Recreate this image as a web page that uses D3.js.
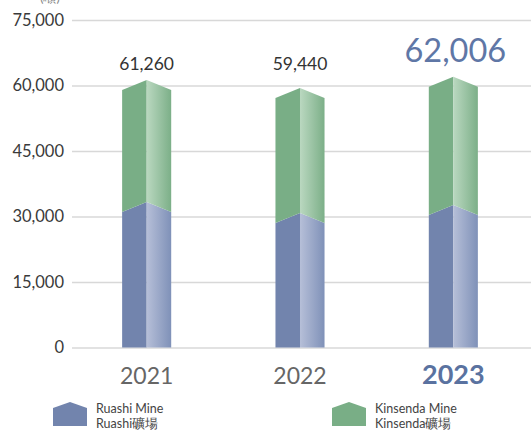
<!DOCTYPE html>
<html>
<head>
<meta charset="utf-8">
<script src="https://cdn.jsdelivr.net/npm/d3@7"></script>
<style>
  html, body { margin: 0; padding: 0; background: #fff; }
  svg { display: block; font-family: Lato, "Noto Sans", sans-serif; }
</style>
</head>
<body>
<svg id="chart" width="531" height="430"></svg>
<script>
// Production volume per year by mine (tonnes)
const years = ["2021", "2022", "2023"];
const ruashi = [33340, 30820, 32650];
const kinsenda = [27920, 28620, 29356];
const totals = [61260, 59440, 62006];
const yTicks = [0, 15000, 30000, 45000, 60000, 75000];
const seriesNames = [
  ["Ruashi Mine", "Ruashi礦場"],
  ["Kinsenda Mine", "Kinsenda礦場"]
];

const svg = d3.select("#chart");
const plot = { left: 72, right: 531, top: 20, bottom: 347.5 };

const x = d3.scaleBand().domain(years).range([70, 530]).paddingInner(0.68).paddingOuter(0.34);
const y = d3.scaleLinear().domain([0, 75000]).range([plot.bottom, plot.top]);

const defs = svg.append("defs");
function grad(id, c0, c1) {
  const g = defs.append("linearGradient").attr("id", id)
    .attr("x1", "0%").attr("x2", "100%").attr("y1", "0%").attr("y2", "0%");
  g.append("stop").attr("offset", "0%").attr("stop-color", c0);
  g.append("stop").attr("offset", "100%").attr("stop-color", c1);
}
grad("blueFace", "#b6bfd8", "#7f91b8");
grad("greenFace", "#bad8c0", "#7caf88");

const colors = {
  blue: { solid: "#7284ad", face: "url(#blueFace)" },
  green: { solid: "#79ae86", face: "url(#greenFace)" }
};

// Gridlines and y axis labels
const yAxis = d3.axisLeft(y).tickValues(yTicks)
  .tickSize(-(plot.right - plot.left)).tickPadding(8)
  .tickFormat(d3.format(","));
const gy = svg.append("g").attr("transform", `translate(${plot.left},0)`).call(yAxis);
gy.select(".domain").remove();
gy.selectAll(".tick line").attr("stroke", "#d8d8d8").attr("stroke-width", 1.6);
gy.selectAll(".tick text").attr("fill", "#3a3a3a").attr("font-size", 16.5)
  .attr("font-family", "Lato, 'Noto Sans', sans-serif");

// Unit label, mostly above the top edge
svg.append("text").attr("x", 50).attr("y", 2).attr("text-anchor", "middle")
  .attr("font-size", 13).attr("fill", "#888").text("(噸)");

// Chevron-topped bars: peak at the value, shoulders dropped by `drop` px
const drop = 10;
const bars = svg.append("g");
years.forEach((yr, i) => {
  const x0 = x(yr), bw = x.bandwidth(), cx = x0 + bw / 2, x1 = x0 + bw;
  const segs = [
    { lo: 0, hi: ruashi[i], c: colors.blue, flat: true },
    { lo: ruashi[i], hi: ruashi[i] + kinsenda[i], c: colors.green, flat: false }
  ];
  segs.forEach(s => {
    const pTop = y(s.hi), pBot = y(s.lo);
    const botEdge = s.flat ? pBot : pBot + drop;
    const botMid = pBot;
    // left half
    bars.append("path")
      .attr("d", `M${x0},${botEdge} L${x0},${pTop + drop} L${cx},${pTop} L${cx},${botMid} Z`)
      .attr("fill", s.c.solid);
    // right half
    bars.append("path")
      .attr("d", `M${cx},${botMid} L${cx},${pTop} L${x1},${pTop + drop} L${x1},${botEdge} Z`)
      .attr("fill", s.c.face);
  });
});

// Total labels
years.forEach((yr, i) => {
  const cx = x(yr) + x.bandwidth() / 2;
  const last = i === years.length - 1;
  svg.append("text")
    .attr("x", last ? cx + 2 : cx).attr("y", last ? 62 : 70)
    .attr("text-anchor", "middle")
    .attr("font-size", last ? 32.5 : 17.5)
    .attr("fill", last ? "#5f77a6" : "#333")
    .text(d3.format(",")(totals[i]));
});

// Year labels
const xAxis = d3.axisBottom(x).tickSize(0).tickPadding(0);
const gx = svg.append("g").attr("transform", `translate(0,${plot.bottom})`).call(xAxis);
gx.select(".domain").remove();
gx.selectAll(".tick text")
  .attr("y", 0).attr("dy", 0)
  .attr("transform", "translate(0,36)")
  .attr("font-family", "Lato, 'Noto Sans', sans-serif")
  .attr("font-size", (d, i) => i === years.length - 1 ? 27 : 23)
  .attr("font-weight", (d, i) => i === years.length - 1 ? 700 : 400)
  .attr("fill", (d, i) => i === years.length - 1 ? "#5a72a0" : "#666");

// Legend with house-shaped swatches
const legendItems = [
  { x: 53, color: "#7284ad", names: seriesNames[0] },
  { x: 332, color: "#79ae86", names: seriesNames[1] }
];
legendItems.forEach(it => {
  const g = svg.append("g").attr("transform", `translate(${it.x},402)`);
  g.append("path").attr("d", "M0,6 L17,0 L34,6 L34,24 L0,24 Z").attr("fill", it.color);
  g.append("text").attr("x", 43).attr("y", 11).attr("font-size", 12.5)
    .attr("fill", "#444").text(it.names[0]);
  g.append("text").attr("x", 43).attr("y", 26).attr("font-size", 12.5)
    .attr("fill", "#444").text(it.names[1]);
});
</script>
</body>
</html>
